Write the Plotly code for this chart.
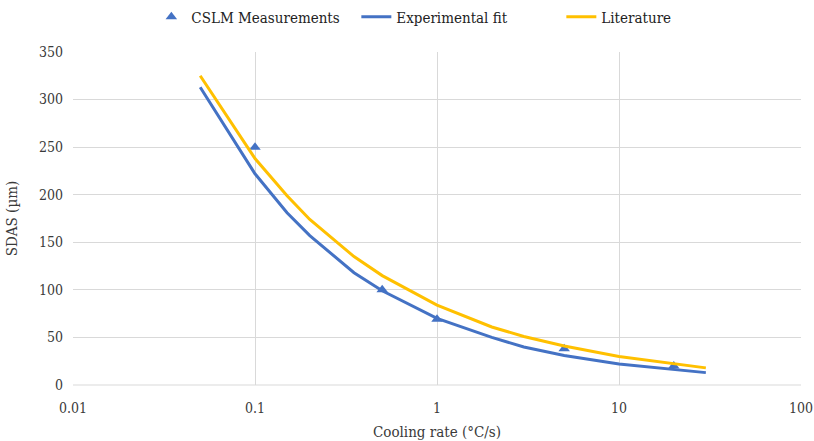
import plotly.graph_objects as go

# Measurements
meas_x = [0.1, 0.5, 1, 5, 20]
meas_y = [250, 100, 69, 38, 20]

# Experimental fit
fit_x = [0.05, 0.1, 0.15, 0.2, 0.35, 0.5, 1, 2, 3, 5, 10, 20, 30]
fit_y = [313, 222, 181, 157, 118, 99, 70, 50, 40, 31, 22, 16, 13]

# Literature
lit_x = [0.05, 0.1, 0.15, 0.2, 0.35, 0.5, 1, 2, 3, 5, 10, 20, 30]
lit_y = [325, 238, 199, 174, 135, 115, 84, 61, 51, 41, 30, 22, 18]

x_ticks = [0.01, 0.1, 1, 10, 100]
x_ticktext = ["0.01", "0.1", "1", "10", "100"]
y_ticks = [0, 50, 100, 150, 200, 250, 300, 350]

BLUE = "#4472C4"
YELLOW = "#FFC000"
FONT = "DejaVu Serif Condensed, DejaVu Serif, serif"
TXT = "#3a3a3a"

fig = go.Figure()
fig.add_trace(go.Scatter(x=meas_x, y=meas_y, mode="markers", name="CSLM Measurements",
                         marker=dict(symbol="triangle-up", size=10, color=BLUE)))
fig.add_trace(go.Scatter(x=fit_x, y=fit_y, mode="lines", name="Experimental fit",
                         line=dict(color=BLUE, width=3)))
fig.add_trace(go.Scatter(x=lit_x, y=lit_y, mode="lines", name="Literature",
                         line=dict(color=YELLOW, width=3)))

fig.update_layout(
    width=814, height=441,
    margin=dict(l=73, r=13, t=52, b=56, autoexpand=False),
    paper_bgcolor="white", plot_bgcolor="white",
    font=dict(family=FONT, size=14, color=TXT),
    legend=dict(orientation="h", x=0.53, xanchor="center", y=1.105, yanchor="middle",
                font=dict(size=15, color="#222222"), traceorder="normal",
                entrywidth=160, entrywidthmode="pixels"),
    showlegend=True,
)
fig.update_xaxes(type="log", range=[-2, 2], tickvals=x_ticks, ticktext=x_ticktext,
                 showgrid=True, gridcolor="#D9D9D9", gridwidth=1, zeroline=False,
                 showline=False, ticks="", tickfont=dict(size=14, color=TXT),
                 ticklabelstandoff=13,
                 title=dict(text="Cooling rate (°C/s)", font=dict(size=15, color=TXT), standoff=12))
fig.update_yaxes(range=[0, 350], tickvals=y_ticks, showgrid=True, gridcolor="#D9D9D9",
                 gridwidth=1, zeroline=False, showline=False, ticks="",
                 tickfont=dict(size=14, color=TXT), ticklabelstandoff=9,
                 title=dict(text="SDAS (µm)", font=dict(size=15, color=TXT), standoff=17))
fig.add_shape(type="line", xref="paper", yref="paper", x0=0, x1=1, y0=0, y1=0,
              line=dict(color="#D9D9D9", width=1))

fig.write_html("out.html", config={"displayModeBar": False},
               post_script="document.body.style.margin='0';document.body.style.overflow='hidden';")
